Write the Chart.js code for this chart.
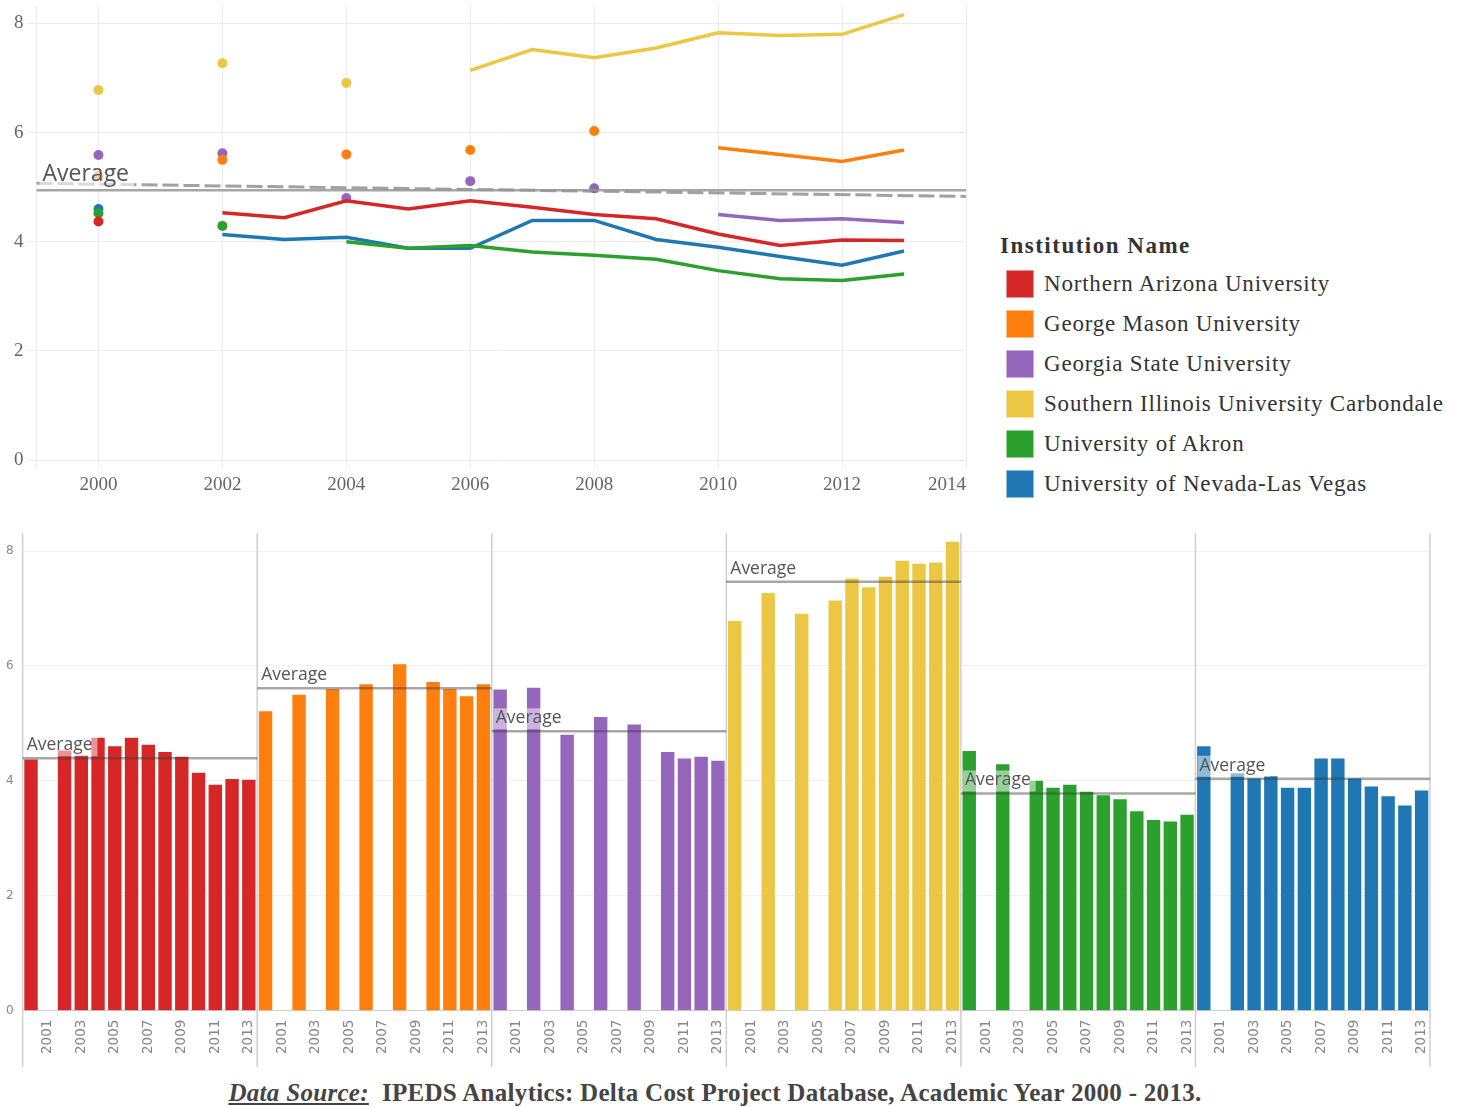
<!DOCTYPE html>
<html>
<head>
<meta charset="utf-8">
<script src="https://cdn.jsdelivr.net/npm/chart.js@4.4.1/dist/chart.umd.min.js"></script>
<style>
  body { margin: 0; background: #fff; width: 1463px; height: 1107px; position: relative; overflow: hidden; }
  #top { position: absolute; left: -4px; top: -10px; width: 989px; height: 516px; }
  #bottom { position: absolute; left: -9px; top: 517px; width: 1454px; height: 553px; }
  #legend { position: absolute; left: 1000px; top: 232px; font-family: "Liberation Serif", serif; color: #333; }
  #legend .ttl { font-weight: bold; font-size: 23px; letter-spacing: 1.5px; height: 28px; line-height: 28px; margin-bottom: 4px; }
  #legend .item { display: flex; align-items: center; height: 40px; margin-left: 6px; font-size: 23px; letter-spacing: 0.8px; white-space: nowrap; }
  #legend .sw { width: 28px; height: 28px; margin-right: 10px; box-sizing: border-box; border: 1px solid rgba(255,255,255,0.5); }
  #source { position: absolute; left: 0; width: 1430px; top: 1079px; text-align: center; font-family: "Liberation Serif", serif; font-size: 25px; letter-spacing: 0.3px; font-weight: bold; color: #444; }
  #source em { text-decoration: underline; }
</style>
</head>
<body>
<div id="top"><canvas id="trend"></canvas></div>
<div id="legend"><div class="ttl">Institution Name</div></div>
<div id="bottom"><canvas id="bars"></canvas></div>
<div id="source"><em>Data Source:</em>&nbsp; IPEDS Analytics: Delta Cost Project Database, Academic Year 2000 - 2013.</div>
<script>
  const years = [2000, 2001, 2002, 2003, 2004, 2005, 2006, 2007, 2008, 2009, 2010, 2011, 2012, 2013];
  const institutions = [
    "Northern Arizona University",
    "George Mason University",
    "Georgia State University",
    "Southern Illinois University Carbondale",
    "University of Akron",
    "University of Nevada-Las Vegas",
  ];
  const colors = ["#d62728", "#ff7f0e", "#9467bd", "#ebc744", "#2ca02c", "#1f77b4"];

  // values per year 2000..2013, null = no data
  const northernArizona = [4.37, null, 4.53, 4.44, 4.75, 4.60, 4.75, 4.63, 4.50, 4.42, 4.14, 3.93, 4.03, 4.02];
  const georgeMason = [5.21, null, 5.50, null, 5.60, null, 5.68, null, 6.03, null, 5.72, 5.60, 5.47, 5.68];
  const georgiaState = [5.59, null, 5.62, null, 4.80, null, 5.11, null, 4.98, null, 4.50, 4.39, 4.42, 4.35];
  const siuCarbondale = [6.78, null, 7.27, null, 6.91, null, 7.14, 7.52, 7.37, 7.55, 7.83, 7.78, 7.80, 8.16];
  const akron = [4.52, null, 4.29, null, 4.00, 3.88, 3.93, 3.81, 3.75, 3.68, 3.47, 3.32, 3.29, 3.41];
  const unlv = [4.60, null, 4.13, 4.04, 4.08, 3.88, 3.88, 4.39, 4.39, 4.04, 3.90, 3.73, 3.57, 3.83];

  const xTicks = [1999, 2000, 2002, 2004, 2006, 2008, 2010, 2012, 2014];
  const yTicks = [0, 2, 4, 6, 8];
  // dashed trend line ends (1999 and 2014)
  const trendStart = 5.07;
  const trendEnd = 4.83;

  const series = [northernArizona, georgeMason, georgiaState, siuCarbondale, akron, unlv];

  const mean = (arr) => {
    const v = arr.filter((d) => d != null);
    return v.reduce((a, b) => a + b, 0) / v.length;
  };
  const overallAvg = mean(series.flat());

  // legend
  const legendEl = document.getElementById("legend");
  institutions.forEach((name, k) => {
    const row = document.createElement("div");
    row.className = "item";
    row.innerHTML = '<div class="sw" style="background:' + colors[k] + '"></div><span>' + name + "</span>";
    legendEl.appendChild(row);
  });

  // only single points (no neighbour on either side) get a dot
  function isolated(ctx) {
    const d = ctx.dataset.data, i = ctx.dataIndex;
    if (!d[i] || d[i].y == null) return 0;
    const prev = i > 0 ? d[i - 1].y : null;
    const next = i < d.length - 1 ? d[i + 1].y : null;
    return prev == null && next == null ? 5 : 0;
  }

  const lineSets = series.map((vals, k) => ({
    label: institutions[k],
    data: years.map((yr, i) => ({ x: yr, y: vals[i] })),
    borderColor: colors[k],
    backgroundColor: colors[k],
    borderWidth: 3.5,
    tension: 0,
    spanGaps: false,
    pointRadius: isolated,
    pointHoverRadius: isolated,
    pointBorderWidth: 0,
  }));
  lineSets.push({
    label: "Average",
    data: [{ x: 1999, y: overallAvg }, { x: 2014, y: overallAvg }],
    borderColor: "rgba(150,150,150,0.85)",
    borderWidth: 2.5,
    pointRadius: 0,
    order: -2,
  });
  lineSets.push({
    label: "Trend",
    data: [{ x: 1999, y: trendStart }, { x: 2014, y: trendEnd }],
    borderColor: "rgba(110,110,110,0.65)",
    borderWidth: 3,
    borderDash: [16, 5],
    pointRadius: 0,
    order: -1,
  });

  const topAvgLabel = {
    id: "topAvgLabel",
    afterDatasetsDraw(chart) {
      const { ctx, chartArea, scales } = chart;
      const y = scales.y.getPixelForValue(overallAvg);
      ctx.save();
      ctx.font = '23px "Open Sans"';
      const w = ctx.measureText("Average").width;
      ctx.fillStyle = "rgba(255,255,255,0.6)";
      ctx.fillRect(chartArea.left + 3, y - 29, w + 8, 26);
      ctx.fillStyle = "#555";
      ctx.textBaseline = "middle";
      ctx.fillText("Average", chartArea.left + 6, y - 16);
      ctx.restore();
    },
  };

  new Chart(document.getElementById("trend"), {
    type: "line",
    data: { datasets: lineSets },
    plugins: [topAvgLabel],
    options: {
      responsive: true,
      maintainAspectRatio: false,
      animation: false,
      layout: { autoPadding: false, padding: { left: 14, top: 4, right: 19, bottom: 5 } },
      plugins: { legend: { display: false }, tooltip: { enabled: false } },
      scales: {
        x: {
          type: "linear",
          min: 1999,
          max: 2014,
          afterBuildTicks: (ax) => { ax.ticks = xTicks.map((v) => ({ value: v })); },
          grid: { color: "#ececec", drawTicks: false },
          border: { display: false },
          ticks: {
            padding: 5,
            align: "inner",
            color: "#666",
            font: { family: "Liberation Serif", size: 19 },
            callback: (v) => (v === 1999 ? "" : String(v)),
          },
        },
        y: {
          min: -0.15,
          max: 8.33,
          afterBuildTicks: (ax) => { ax.ticks = yTicks.map((v) => ({ value: v })); },
          grid: { color: "#ececec", tickLength: 9, tickColor: "#ececec" },
          border: { display: false },
          ticks: { padding: 4, color: "#666", font: { family: "Liberation Serif", size: 19 } },
        },
      },
    },
  });

  // bottom: one panel of 14 years per institution
  const n = years.length;
  const barLabels = [].concat(...institutions.map(() => years.map(String)));
  const barSets = series.map((vals, k) => ({
    label: institutions[k],
    data: barLabels.map((_, i) => (Math.floor(i / n) === k ? vals[i % n] : null)),
    backgroundColor: colors[k],
    grouped: false,
    barPercentage: 0.8,
    categoryPercentage: 1,
  }));

  const panelMarks = {
    id: "panelMarks",
    afterDatasetsDraw(chart) {
      const { ctx, chartArea, scales: { x, y } } = chart;
      const half = (x.getPixelForValue(1) - x.getPixelForValue(0)) / 2;
      ctx.save();
      ctx.strokeStyle = "#cfcfcf";
      ctx.lineWidth = 1.5;
      for (let k = 0; k <= series.length; k++) {
        const px = k < series.length ? x.getPixelForValue(k * n) - half : x.getPixelForValue(k * n - 1) + half;
        ctx.beginPath();
        ctx.moveTo(px, chartArea.top);
        ctx.lineTo(px, chart.height - 3);
        ctx.stroke();
      }
      ctx.font = '17.5px "Open Sans"';
      ctx.textBaseline = "middle";
      series.forEach((vals, k) => {
        const avg = mean(vals);
        const left = x.getPixelForValue(k * n) - half;
        const right = x.getPixelForValue(k * n + n - 1) + half;
        const py = y.getPixelForValue(avg);
        const w = ctx.measureText("Average").width;
        ctx.fillStyle = "rgba(255,255,255,0.5)";
        ctx.fillRect(left + 2, py - 23, w + 7, 21);
        ctx.fillStyle = "#555";
        ctx.fillText("Average", left + 4, py - 13);
        ctx.strokeStyle = "rgba(60,60,60,0.45)";
        ctx.lineWidth = 2.5;
        ctx.beginPath();
        ctx.moveTo(left, py);
        ctx.lineTo(right, py);
        ctx.stroke();
      });
      ctx.restore();
    },
  };

  new Chart(document.getElementById("bars"), {
    type: "bar",
    data: { labels: barLabels, datasets: barSets },
    plugins: [panelMarks],
    options: {
      responsive: true,
      maintainAspectRatio: false,
      animation: false,
      layout: { autoPadding: false, padding: { left: 6, top: 5, right: 15, bottom: 15 } },
      plugins: { legend: { display: false }, tooltip: { enabled: false } },
      scales: {
        x: {
          grid: { display: false },
          border: { display: true, color: "#d0d0d0" },
          ticks: {
            autoSkip: false,
            maxRotation: 90,
            minRotation: 90,
            padding: 1,
            color: "#888",
            font: { family: "DejaVu Sans", size: 13.5 },
            callback: (v, i) => (years[i % n] % 2 === 1 ? String(years[i % n]) : ""),
          },
        },
        y: {
          min: 0,
          max: 8.31,
          afterBuildTicks: (ax) => { ax.ticks = yTicks.map((v) => ({ value: v })); },
          grid: { color: "#f0f0f0", drawTicks: false },
          border: { display: false },
          ticks: { padding: 9, color: "#888", font: { family: "DejaVu Sans", size: 12 } },
        },
      },
    },
  });
</script>
</body>
</html>
